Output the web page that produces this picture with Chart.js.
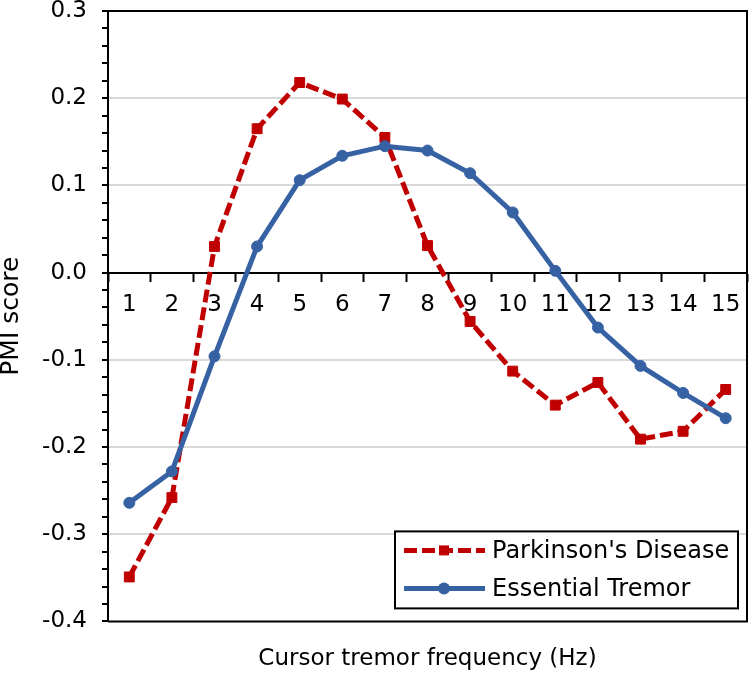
<!DOCTYPE html>
<html>
<head>
<meta charset="utf-8">
<script src="https://cdn.jsdelivr.net/npm/chart.js"></script>
<style>
  html, body { margin: 0; background: #fff; overflow: hidden; }
  #wrap { width: 750px; height: 676px; position: relative; }
  canvas { display: block; }
</style>
</head>
<body>
<div id="wrap"><canvas id="tremor-chart"></canvas></div>
<script>
const freqLabels = ['1', '2', '3', '4', '5', '6', '7', '8', '9', '10', '11', '12', '13', '14', '15'];
const parkinsons = [-0.349, -0.258, 0.030, 0.165, 0.218, 0.199, 0.155, 0.031, -0.056, -0.113, -0.152, -0.126, -0.191, -0.182, -0.134];
const essential = [-0.264, -0.228, -0.096, 0.030, 0.106, 0.134, 0.145, 0.140, 0.114, 0.069, 0.002, -0.063, -0.107, -0.138, -0.167];
const seriesNames = ["Parkinson's Disease", 'Essential Tremor'];
const yMin = -0.4;
const yMax = 0.3;

const font = 'DejaVu Sans';
const red = '#c00000';
const blue = '#3661a3';

function isMajor(v) {
    return Math.round(v * 50) % 5 === 0;
}

// black box round the plot area plus the legend drawn inside it
const frameAndLegend = {
    id: 'frameAndLegend',
    afterDraw(chart) {
        const ctx = chart.ctx;
        const ca = chart.chartArea;
        ctx.save();
        ctx.strokeStyle = '#000';
        ctx.lineWidth = 2;
        ctx.beginPath();
        ctx.moveTo(ca.left, ca.top);
        ctx.lineTo(ca.right, ca.top);
        ctx.lineTo(ca.right, ca.bottom);
        ctx.lineTo(ca.left, ca.bottom);
        ctx.stroke();

        const w = 343, h = 77;
        const bx = ca.right - 9 - w;
        const by = ca.bottom - 13 - h;
        ctx.fillStyle = '#fff';
        ctx.fillRect(bx, by, w, h);
        ctx.strokeRect(bx, by, w, h);

        chart.data.datasets.forEach((ds, i) => {
            const y = by + 19 + i * 38;
            ctx.strokeStyle = ds.borderColor;
            ctx.lineWidth = ds.borderWidth;
            ctx.setLineDash(ds.borderDash || []);
            ctx.beginPath();
            ctx.moveTo(bx + 9, y);
            ctx.lineTo(bx + 90, y);
            ctx.stroke();
            ctx.setLineDash([]);
            ctx.fillStyle = ds.borderColor;
            const mx = bx + 49;
            if (ds.pointStyle === 'rect') {
                ctx.fillRect(mx - 5, y - 5, 10, 10);
            } else {
                ctx.beginPath();
                ctx.arc(mx, y, 6, 0, Math.PI * 2);
                ctx.fill();
            }
            ctx.fillStyle = '#000';
            ctx.font = '24px "' + font + '"';
            ctx.textBaseline = 'middle';
            ctx.fillText(ds.label, bx + 97, y + 1);
        });
        ctx.restore();
    }
};

new Chart(document.getElementById('tremor-chart'), {
    type: 'line',
    data: {
        labels: freqLabels,
        datasets: [{
            label: seriesNames[0],
            data: parkinsons,
            borderColor: red,
            backgroundColor: red,
            borderWidth: 5,
            borderDash: [13, 5],
            pointStyle: 'rect',
            pointRadius: 7,
            pointBorderWidth: 1,
            tension: 0,
            order: 2
        }, {
            label: seriesNames[1],
            data: essential,
            borderColor: blue,
            backgroundColor: blue,
            borderWidth: 5,
            pointStyle: 'circle',
            pointRadius: 5.5,
            pointBorderWidth: 1,
            tension: 0,
            order: 1
        }]
    },
    options: {
        responsive: true,
        maintainAspectRatio: false,
        animation: false,
        layout: { autoPadding: false, padding: { left: 0, right: 3, top: 0, bottom: 0 } },
        plugins: {
            legend: { display: false },
            tooltip: { enabled: false }
        },
        scales: {
            x: {
                type: 'category',
                position: { y: 0 },
                offset: true,
                afterFit(scale) {
                    scale.paddingLeft = 0;
                    scale.paddingRight = 0;
                },
                grid: {
                    drawOnChartArea: false,
                    drawTicks: true,
                    tickLength: 8,
                    tickWidth: 2,
                    tickColor: '#000',
                    offset: true
                },
                border: { display: true, color: '#000', width: 2 },
                ticks: {
                    color: '#000',
                    padding: 11,
                    maxRotation: 0,
                    autoSkip: false,
                    font: { family: font, size: 23 }
                }
            },
            // bottom axis only carries the title, centred under the plot
            xTitle: {
                type: 'category',
                position: 'bottom',
                afterFit(scale) {
                    scale.paddingLeft = 0;
                    scale.paddingRight = 0;
                },
                grid: { display: false, drawTicks: false },
                border: { display: false },
                ticks: { display: false },
                title: {
                    display: true,
                    text: 'Cursor tremor frequency (Hz)',
                    color: '#000',
                    font: { family: font, size: 23, lineHeight: 1.2 },
                    padding: { top: 24, bottom: 3 }
                }
            },
            y: {
                min: yMin,
                max: yMax,
                afterFit(scale) {
                    scale.width = 108;
                    scale.paddingTop = 11;
                    scale.paddingBottom = 11;
                },
                grid: {
                    color: (c) => {
                        const v = c.tick ? c.tick.value : 0;
                        if (!isMajor(v) || Math.abs(v) < 1e-9 || v > yMax - 1e-9 || v < yMin + 1e-9) {
                            return 'rgba(0,0,0,0)';
                        }
                        return '#d9d9d9';
                    },
                    lineWidth: 2,
                    tickColor: '#000',
                    tickLength: 6,
                    tickWidth: 2
                },
                border: { display: true, color: '#000', width: 2 },
                ticks: {
                    stepSize: 0.02,
                    autoSkip: false,
                    color: '#000',
                    padding: 15,
                    font: { family: font, size: 23, lineHeight: 1 },
                    callback: (v) => isMajor(v) ? Number(v).toFixed(1) : ''
                },
                title: {
                    display: true,
                    text: 'PMI score',
                    color: '#000',
                    font: { family: font, size: 25, lineHeight: 0.92 },
                    padding: { top: 0, bottom: 0 }
                }
            }
        }
    },
    plugins: [frameAndLegend]
});
</script>
</body>
</html>
